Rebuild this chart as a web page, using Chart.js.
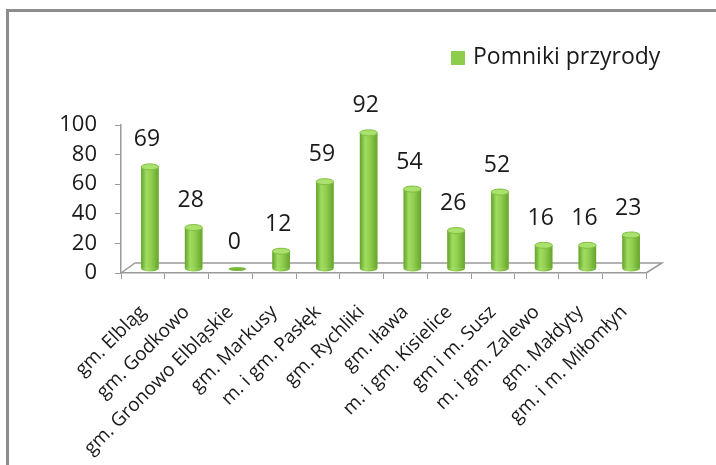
<!DOCTYPE html>
<html>
<head>
<meta charset="utf-8">
<script src="https://cdn.jsdelivr.net/npm/chart.js@4.4.1/dist/chart.umd.min.js"></script>
<style>
    html, body { margin: 0; padding: 0; background: #fff; overflow: hidden; }
    #frame { position: absolute; left: 6px; top: 9px; width: 800px; height: 600px;
             border-top: 3px solid #8c8c8c; border-left: 3px solid #8c8c8c; }
    #wrap { position: absolute; left: 0; top: 0; width: 716px; height: 465px; }
</style>
</head>
<body>
<div id="frame"></div>
<div id="wrap"><canvas id="chart"></canvas></div>
<script>
// Data
const gminy = [
    'gm. Elbląg', 'gm. Godkowo', 'gm. Gronowo Elbląskie', 'gm. Markusy',
    'm. i gm. Pasłęk', 'gm. Rychliki', 'gm. Iława', 'm. i gm. Kisielice',
    'gm i m. Susz', 'm. i gm. Zalewo', 'gm. Małdyty', 'gm. i m. Miłomłyn'
];
const pomniki = [69, 28, 0, 12, 59, 92, 54, 26, 52, 16, 16, 23];
const seriesName = 'Pomniki przyrody';
const yTicks = [0, 20, 40, 60, 80, 100];

const FONT = "'Open Sans', sans-serif";
const AXIS_GREY = '#9a9a9a';
const BAR_GREEN = '#8ccd4c';
const DEPTH = { x: 14, y: -10 };   // 3D floor depth
const SHIFT = { x: 7, y: -4 };     // bars stand in the middle of the floor

// floor of the 3D plot + shift of the bars
const floor3d = {
    id: 'floor3d',
    beforeDatasetsDraw(chart) {
        const { ctx, chartArea: a } = chart;
        ctx.save();
        ctx.strokeStyle = AXIS_GREY;
        ctx.lineWidth = 1.5;
        ctx.beginPath();
        ctx.moveTo(a.left, a.bottom);
        ctx.lineTo(a.left + DEPTH.x, a.bottom + DEPTH.y);
        ctx.lineTo(a.right + DEPTH.x + 2, a.bottom + DEPTH.y);
        ctx.lineTo(a.right, a.bottom);
        ctx.stroke();
        ctx.restore();

        ctx.save();
        ctx.translate(SHIFT.x, SHIFT.y);
    },
    afterDatasetsDraw(chart) {
        const ctx = chart.ctx;
        const meta = chart.getDatasetMeta(0);
        meta.data.forEach(bar => {
            const { x, y, base, width } = bar.getProps(['x', 'y', 'base', 'width'], true);
            const r = width / 2;
            const ry = 3;
            if (base - y < 1) {
                ctx.fillStyle = '#78b83c';
                ctx.beginPath();
                ctx.ellipse(x, base, r, 2, 0, 0, Math.PI * 2);
                ctx.fill();
                return;
            }
            const g = ctx.createLinearGradient(x - r, 0, x + r, 0);
            g.addColorStop(0, '#62a32b');
            g.addColorStop(0.3, '#a0dc60');
            g.addColorStop(0.55, '#92d050');
            g.addColorStop(1, '#66a52d');
            ctx.fillStyle = g;
            ctx.fillRect(x - r, y, width, base - y);
            ctx.beginPath();
            ctx.ellipse(x, base, r, ry, 0, 0, Math.PI);
            ctx.fill();
            // top cap
            ctx.beginPath();
            ctx.ellipse(x, y, r, ry, 0, 0, Math.PI * 2);
            ctx.fillStyle = '#abe26e';
            ctx.fill();
            ctx.strokeStyle = '#80be42';
            ctx.lineWidth = 1;
            ctx.stroke();
        });
        ctx.restore();

        // value labels
        ctx.save();
        ctx.font = '23px ' + FONT;
        ctx.fillStyle = '#1a1a1a';
        ctx.textAlign = 'center';
        ctx.textBaseline = 'middle';
        meta.data.forEach((bar, i) => {
            const { x, y } = bar.getProps(['x', 'y'], true);
            ctx.fillText(String(pomniki[i]), x + SHIFT.x - 3, y + SHIFT.y - 27);
        });
        ctx.restore();
    }
};

// legend in the top right corner
const cornerLegend = {
    id: 'cornerLegend',
    afterDraw(chart) {
        const ctx = chart.ctx;
        const ds = chart.data.datasets[0];
        ctx.save();
        ctx.fillStyle = ds.backgroundColor;
        ctx.fillRect(451, 51, 14, 14);
        ctx.font = '23px ' + FONT;
        ctx.fillStyle = '#1a1a1a';
        ctx.textBaseline = 'middle';
        ctx.fillText(ds.label, 473, 57);
        ctx.restore();
    }
};

new Chart(document.getElementById('chart'), {
    type: 'bar',
    data: {
        labels: gminy,
        datasets: [{
            label: seriesName,
            data: pomniki,
            backgroundColor: BAR_GREEN,
            borderWidth: 0,
            categoryPercentage: 1,
            barPercentage: 0.4
        }]
    },
    options: {
        responsive: true,
        maintainAspectRatio: false,
        animation: false,
        layout: { padding: { top: 125, right: 70, left: 0, bottom: 0 } },
        plugins: {
            legend: { display: false },
            tooltip: { enabled: false }
        },
        scales: {
            x: {
                grid: { drawOnChartArea: false, tickLength: 6, color: AXIS_GREY },
                border: { color: AXIS_GREY, width: 1.5 },
                ticks: {
                    minRotation: 45,
                    maxRotation: 45,
                    padding: 22,
                    color: '#1a1a1a',
                    font: { family: FONT, size: 19 }
                },
                afterFit(scale) { scale.height = 192; }
            },
            y: {
                min: 0,
                max: 100,
                afterBuildTicks(scale) { scale.ticks = yTicks.map(v => ({ value: v })); },
                grid: { drawOnChartArea: false, tickLength: 6, color: AXIS_GREY },
                border: { color: AXIS_GREY, width: 1.5 },
                ticks: {
                    padding: 18,
                    color: '#1a1a1a',
                    font: { family: FONT, size: 22 }
                },
                afterFit(scale) { scale.width = 121; }
            }
        }
    },
    plugins: [floor3d, cornerLegend]
});
</script>
</body>
</html>
